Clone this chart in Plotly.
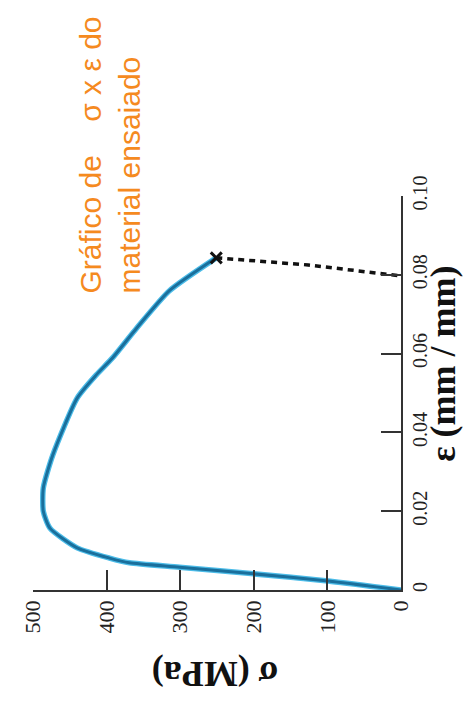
import plotly.graph_objects as go

# Stress-strain curve (loading)
stress = [0, 99, 200, 301, 369, 396, 440, 477, 486, 486, 473, 440, 414, 392, 359, 315, 251]
strain = [0, 0.0023, 0.0041, 0.0058, 0.0069, 0.0081, 0.0107, 0.0157, 0.0200, 0.0259,
          0.0343, 0.0487, 0.0546, 0.0589, 0.0665, 0.0759, 0.0843]

# Unloading (dashed) branch
unload_stress = [251, 126, 0]
unload_strain = [0.0843, 0.0825, 0.0797]

stress_ticks = [0, 100, 200, 300, 400, 500]
strain_ticks = [0, 0.02, 0.04, 0.06, 0.08, 0.10]
strain_tick_text = ["0", "0.02", "0.04", "0.06", "0.08", "0.10"]

fig = go.Figure()
fig.add_trace(go.Scatter(x=stress, y=strain, mode="lines",
                         line=dict(color="#4cbce8", width=5.5, shape="spline", smoothing=0.6),
                         hoverinfo="skip", showlegend=False))
fig.add_trace(go.Scatter(x=stress, y=strain, mode="lines",
                         line=dict(color="#1a6f9c", width=3, shape="spline", smoothing=0.6),
                         showlegend=False))
fig.add_trace(go.Scatter(x=unload_stress, y=unload_strain, mode="lines",
                         line=dict(color="#111111", width=3.5, dash="6px,5px"),
                         showlegend=False))
fig.add_trace(go.Scatter(x=[stress[-1]], y=[strain[-1]], mode="markers",
                         marker=dict(symbol="x-thin", size=11, line=dict(color="#111111", width=3)),
                         showlegend=False))

serif = "Liberation Serif"
fig.update_layout(
    width=476, height=704,
    margin=dict(l=23, r=83, t=188, b=122),
    paper_bgcolor="white", plot_bgcolor="white",
    xaxis=dict(range=[500, 0], tickvals=stress_ticks, ticks="inside", ticklen=20,
               tickwidth=1.5, tickcolor="#333333", showline=True, linecolor="#333333",
               linewidth=1.5, showgrid=False, zeroline=False, tickangle=-90,
               tickfont=dict(family=serif, size=22, color="#222222")),
    yaxis=dict(range=[0, 0.10], side="right", tickvals=strain_ticks, ticktext=strain_tick_text,
               ticks="inside", ticklen=20, tickwidth=1.5, tickcolor="#333333",
               showline=True, linecolor="#333333", linewidth=1.5, showgrid=False,
               zeroline=False, tickangle=-90,
               tickfont=dict(family=serif, size=20, color="#222222")),
    annotations=[
        dict(text="<b>σ (MPa)</b>", xref="paper", yref="paper", x=0.495, y=-0.213,
             xanchor="center", yanchor="middle", textangle=180, showarrow=False,
             font=dict(family=serif, size=36, color="#111111")),
        dict(text="<b>ε (mm / mm)</b>", xref="paper", yref="paper", x=1.115, y=0.575,
             xanchor="center", yanchor="middle", textangle=-90, showarrow=False,
             font=dict(family=serif, size=36, color="#111111")),
        dict(text="Gráfico de \u00a0\u00a0 σ x ε do<br>material ensaiado",
             xref="paper", yref="paper", x=-0.0, y=1.0, xanchor="left", yanchor="bottom",
             xshift=38, yshift=-100, textangle=-90, align="left", showarrow=False,
             font=dict(family="Liberation Sans", size=30, color="#f58a1f")),
    ],
)

fig.write_html("out.html")
